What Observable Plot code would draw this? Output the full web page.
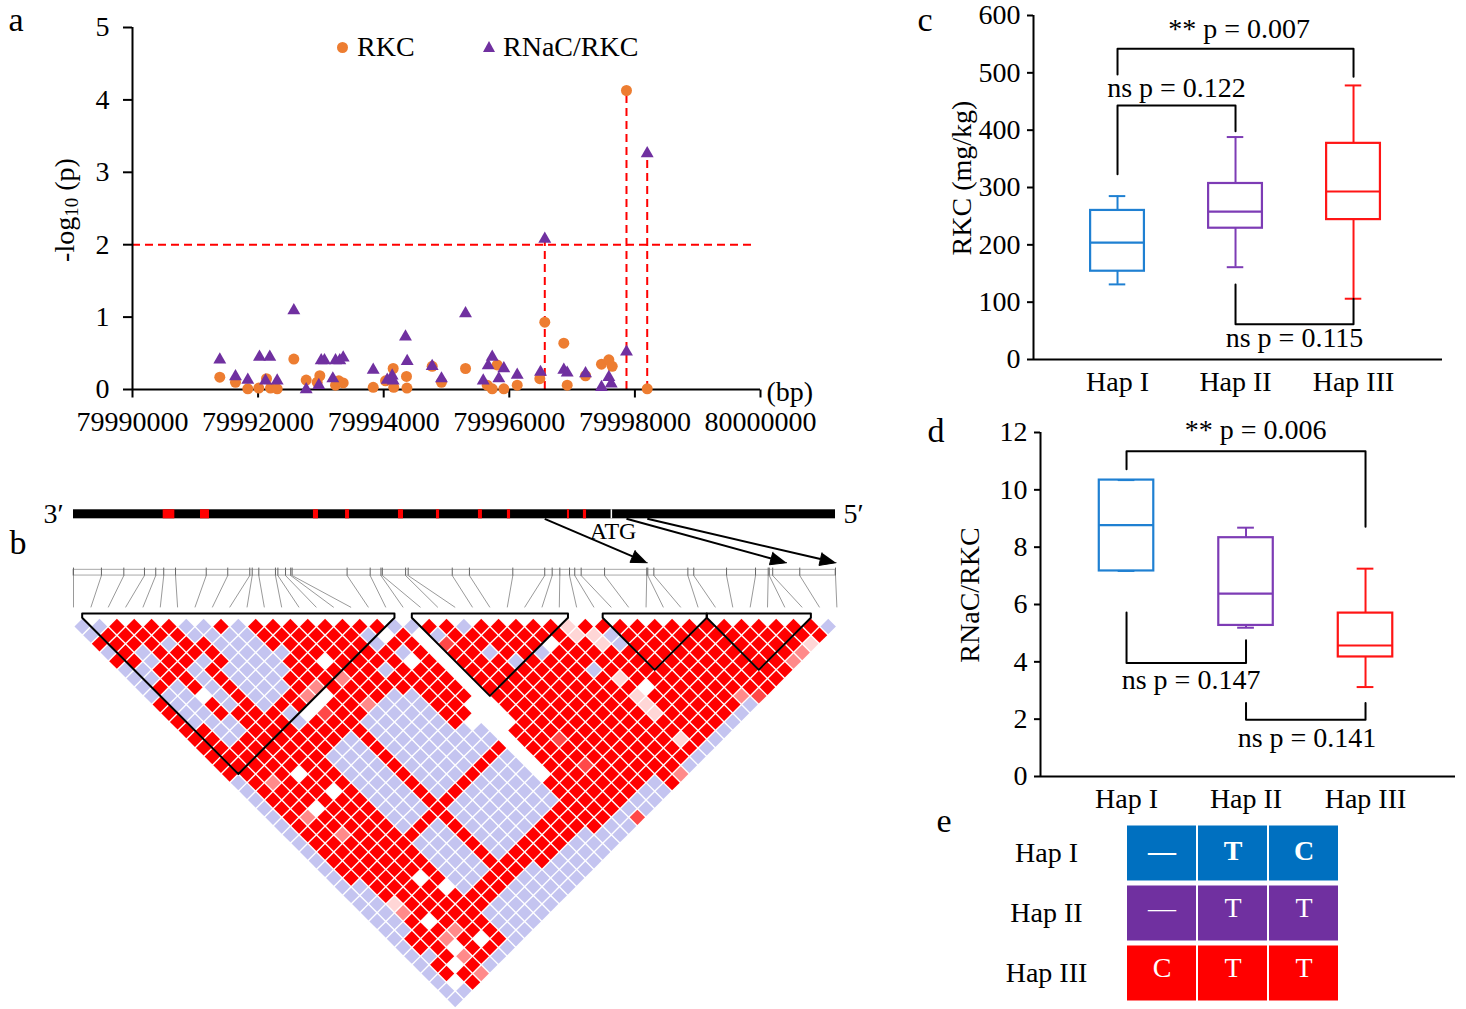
<!DOCTYPE html>
<html><head><meta charset="utf-8">
<script src="https://cdn.jsdelivr.net/npm/d3@7"></script>
<script src="https://cdn.jsdelivr.net/npm/@observablehq/plot@0.6"></script>
<style>
html,body{margin:0;padding:0;background:#fff;}
#root{position:relative;width:1466px;height:1009px;overflow:hidden;font-family:"Liberation Serif","Times New Roman",Times,serif;color:#000;}
.pl{position:absolute;}
.t{position:absolute;line-height:1.15;white-space:nowrap;transform:translate(-50%,-50%);}
.tl{position:absolute;line-height:1.15;white-space:nowrap;transform:translate(0,-50%);}
</style></head>
<body><div id="root"></div>
<script>
// ================= DATA =================
// panel a
const xTicks = [79990000, 79992000, 79994000, 79996000, 79998000, 80000000];
const yTicksA = [0, 1, 2, 3, 4, 5];
const rkcPos = [79991390,79991640,79991836,79992011,79992134,79992197,79992304,79992569,79992766,79992941,79992983,79993233,79993285,79993355,79993833,79994029,79994151,79994160,79994363,79994370,79994772,79994920,79995303,79995648,79995728,79995807,79995913,79996126,79996486,79996565,79996868,79996922,79997214,79997468,79997585,79997639,79997866,79998196];
const rkcP   = [0.17,0.10,0.01,0.02,0.15,0.02,0.01,0.42,0.13,0.10,0.19,0.06,0.12,0.09,0.03,0.12,0.29,0.03,0.18,0.02,0.32,0.10,0.29,0.06,0.01,0.34,0.01,0.06,0.15,0.93,0.64,0.06,0.19,0.35,0.41,0.32,4.13,0.01];
const rnacPos = [79991390,79991640,79991836,79992022,79992118,79992186,79992304,79992569,79992766,79992967,79993005,79993057,79993190,79993233,79993301,79993355,79993833,79994056,79994135,79994151,79994347,79994374,79994772,79994920,79995303,79995585,79995664,79995728,79995833,79995913,79996126,79996497,79996565,79996868,79996922,79997214,79997468,79997585,79997623,79997866,79998196];
const rnacP   = [0.41,0.18,0.13,0.45,0.12,0.45,0.12,1.09,0.00,0.06,0.40,0.40,0.15,0.40,0.40,0.44,0.27,0.13,0.19,0.12,0.73,0.39,0.32,0.15,1.05,0.12,0.33,0.45,0.15,0.29,0.20,0.24,2.08,0.27,0.23,0.22,0.03,0.17,0.08,0.52,3.26];
const sigPos = [79996565, 79997866, 79998196];
const sigP = [2.08, 4.13, 3.26];
const threshold = 2;
const seriesNames = ["RKC", "RNaC/RKC"];

// panel b (positions in SNP-spacing units along the gene map)
const nSnp = 45;
const rulerPos = [0,1.61,2.9,4.09,4.74,5.2,5.88,7.65,8.89,10.16,10.3,10.68,11.64,11.78,12.22,12.52,12.6,15.77,17.1,17.72,17.8,19.14,19.29,21.83,22.82,25.32,27.16,27.59,28.03,28.59,28.89,29.26,30.61,33.04,33.1,33.45,35.41,35.75,37.64,39.31,40.04,40.1,40.3,41.86,43.92];
const geneSpan = [0, 43.92];
const exonStart = [5.17,7.32,13.83,15.68,18.73,20.92,23.34,25.01,28.47,29.39];
const exonEnd   = [5.84,7.84,14.12,15.91,19.02,21.10,23.57,25.19,28.59,29.57];
const atgPos = 31.0;
const arrowFrom = [27.16, 31.87, 33.07];
const arrowTo = [33.07, 41.1, 43.95];
const blockStart = [1, 20, 31, 37];
const blockEnd = [18, 28, 36, 42];
// LD rows: row d holds pairs (i, i+d), i = 0..44-d
// R red, B lavender, W white, L light pink, P pink, M dark pink
// NOTE: rows 1-12 were read cell by cell from zoomed crops of the reference;
// rows 13-44 are a coarser by-eye reading (main red / lavender / white regions),
// so individual cells in the lower half of the triangle may differ from the original.
const ldRows = [
"BBRRRRBBRBRRRRRRRRBBRRBRRRRRLRRRRRRRRRRRRRRB",
"BRRRRRBBBBRRRRRRBWRWBRRRRRRRLLBRRRRRRRRRRRR",
"RRRRBRRBBBRRRRRRBRRWMRRRRRWRRLBRRRRRRRRRRL",
"BRBRRRRBBBBRRRRRRBRWRRBRRBRRRRRRRRRRRRRRP",
"RRBRRBRBBBRRWRRRRWRWRRRBRRRRRRRRRRRRRRRP",
"BBRRBRBBBBRRRRRBRRRWRRRRRRRBRRRRRRRRRRR",
"BBRRBRBBBRRRPRRRRRRWRRRRRRRRLRRRRRRRRR",
"BRBRBRBBBRPRRRRRRRRWRRRRRRRRRWRRRRRRR",
"BBBWBRBBRPWRRRBBRRRWRRRRRRRRLRRRRRPM",
"RBBRBRBRRWRRPBBBRRWWRRRRRRRRLRRRRRB",
"RBBRRRRBWMRRBBBBRRWWRRRRRRRRLRRRRB",
"RBBBRRRBRRRBBBBBRWWWRRRRRRRRRRRRB",
"RRBBRRRRRRRBBBBBBBWRRRRRRRRRRRRB",
"RRBRRRRRRBRBBBBBBBWRRMRRRRRRLRB",
"RRRRRRRRBBRBBBBBBRWRRRRRRRRRRB",
"RRRRRRRBBBRBBBBBRBWRRRRRRRRRB",
"RRRRRRRBBBRBBBBRBBWRRMRRRRRB",
"RRRRWRRBBBRBBBRBBBWRRRRRRRP",
"BRPRRRRBBBRBBRBBBBRRRRRRBR",
"BRRRRWRBBBRBRBBBBBRRRRRBB",
"BRRRRRRBBBRRBBBBBBRRRRBB",
"BRRWRRRBBBRBBBBBBRRRRBB",
"BRPRRRRBBRRBBBBBRRRRBM",
"BRRRRRRBRBRBBBBRRRRBB",
"BRRPRRRRBBRBBBRRRBBB",
"BRRRRRRBBBRBBRRRBBB",
"BRRRRRRBBBRBRRRBBB",
"BRRRRRRBBBRRRRBBB",
"BRRRRRRBBBRRBBBB",
"BRRRRWRBBRRBBBB",
"BBRRRRWBRRBBBB",
"BBRRRRRRRBBBB",
"BBLRRRRRBBBB",
"BBPRRRRBBBB",
"BBRWRRRBBB",
"BBRRPRRBB",
"BRRPRWRB",
"BRRWRRB",
"BBRPRB",
"BRWRB",
"BRRP",
"BWR",
"BB",
"B"
];

// panels c, d, e
const haps = ["Hap I", "Hap II", "Hap III"];
const rkcMin = [131, 161, 106];
const rkcQ1  = [154, 229, 244];
const rkcMed = [204, 258, 293];
const rkcQ3  = [260, 307, 377];
const rkcMax = [285, 388, 478];
const ratMin = [7.17, 5.19, 3.12];
const ratQ1  = [7.17, 5.27, 4.17];
const ratMed = [8.77, 6.38, 4.57];
const ratQ3  = [10.34, 8.33, 5.70];
const ratMax = [10.34, 8.68, 7.25];
const yTicksC = [0, 100, 200, 300, 400, 500, 600];
const yTicksD = [0, 2, 4, 6, 8, 10, 12];
// brackets: [from, to, leftLegEnd, barLevel, rightLegEnd]
const cBrackets = [[0, 2, 497, 542, 493], [0, 1, 323, 443, 398], [1, 2, 131, 61.6, 106]];
const cLabels = ["** p = 0.007", "ns p = 0.122", "ns p = 0.115"];
const cLabelX = [1.03, 0.5, 1.5];
const cLabelY = [577, 474, 36.6];
const dBrackets = [[0, 2, 10.72, 11.35, 8.71], [0, 1, 5.72, 3.96, 4.75], [1, 2, 2.56, 1.98, 2.56]];
const dLabels = ["** p = 0.006", "ns p = 0.147", "ns p = 0.141"];
const dLabelX = [1.08, 0.54, 1.51];
const dLabelY = [12.1, 3.35, 1.34];
const alleles = [["—", "T", "C"], ["—", "T", "T"], ["C", "T", "T"]];

// ================= STYLE / LAYOUT =================
const FONT = '"Liberation Serif","Times New Roman",Times,serif';
const baseStyle = {fontFamily: FONT, fontSize: "28px", background: "transparent", overflow: "visible", color: "black"};
const orange = "#ED7D31", purple = "#7030A0", red = "#FF0000";
const boxColor = ["#1F80D2", "#7D3CB5", "#FF1515"];
const tableColor = ["#0070C0", "#7030A0", "#FF0000"];
const ldColor = {R: "#FF0000", B: "#C4C4F0", W: "#FFFFFF", L: "#FFD6D6", P: "#FF8A8A", M: "#FF4848"};
const root = document.getElementById("root");
function addPlot(svg, left, top) {
  const w = document.createElement("div"); w.className = "pl";
  w.style.left = left + "px"; w.style.top = top + "px";
  w.appendChild(svg); root.appendChild(w);
}
function addText(html, cx, cy, size, rot, cls) {
  const d = document.createElement("div"); d.className = cls || "t"; d.innerHTML = html;
  d.style.left = cx + "px"; d.style.top = cy + "px"; d.style.fontSize = size + "px";
  if (rot) d.style.transform = `translate(-50%,-50%) rotate(${rot}deg)`;
  root.appendChild(d); return d;
}
const tickDown = {draw(ctx) { ctx.moveTo(0, 0); ctx.lineTo(0, 8); }};
const diamond = {draw(ctx, size) { const h = Math.sqrt(size / Math.PI); ctx.moveTo(0, -h); ctx.lineTo(h, 0); ctx.lineTo(0, h); ctx.lineTo(-h, 0); ctx.closePath(); }};

// ================= PANEL B =================
const KX = 17.35, KY = 8.675, BX0 = 73, BY0 = 127.3;
const GENE_Y1 = -12.45, GENE_Y2 = -11.41, RULER_Y1 = -5.53, RULER_Y2 = -4.87, SLANT_END = -1.2, TIP_Y = -6.35;
const cells = [];
ldRows.forEach((s, k) => {
  const d = k + 1;
  for (let i = 0; i <= nSnp - 1 - d; i++) cells.push({x: i + d / 2, y: d, c: s[i] || "B"});
});
const blockPts = [];
blockStart.forEach((a, k) => {
  const b = blockEnd[k];
  [[a - 0.5, 0], [a - 0.5, -0.5], [b + 0.5, -0.5], [b + 0.5, 0], [(a + b) / 2, b - a + 1], [a - 0.5, 0]]
    .forEach(([x, y]) => blockPts.push({x, y, k}));
});
const shafts = [], heads = [];
arrowFrom.forEach((x1, k) => {
  const x2 = arrowTo[k], y1 = GENE_Y2, y2 = TIP_Y;
  const dx = (x2 - x1) * KX, dy = (y2 - y1) * KY, L = Math.hypot(dx, dy);
  const ux = dx / L, uy = dy / L, HL = 16, HW = 6.5;
  const bx = x2 - HL * ux / KX, by = y2 - HL * uy / KY;
  shafts.push({x1, y1, x2: bx, y2: by});
  heads.push({x: x2, y: y2, k}, {x: bx - HW * uy / KX, y: by + HW * ux / KY, k}, {x: bx + HW * uy / KX, y: by - HW * ux / KY, k});
});
const plotB = Plot.plot({
  width: 870, height: 519, marginLeft: BX0, marginRight: 870 - (BX0 + 44 * KX), marginTop: 0, marginBottom: 0,
  style: baseStyle,
  x: {domain: [0, 44], range: [BX0, BX0 + 44 * KX], axis: null},
  y: {domain: [0, 44], range: [BY0, BY0 + 44 * KY], axis: null},
  color: {type: "identity"},
  marks: [
    Plot.rect([geneSpan], {x1: d => d[0], x2: d => d[1], y1: GENE_Y1, y2: GENE_Y2, fill: "black"}),
    Plot.rect(exonStart, {x1: d => d, x2: (d, i) => exonEnd[i], y1: GENE_Y1, y2: GENE_Y2, fill: red}),
    Plot.ruleX([atgPos], {y1: GENE_Y1, y2: GENE_Y2, stroke: "white", strokeWidth: 1.5}),
    Plot.text(["3′"], {x: 0, y: (GENE_Y1 + GENE_Y2) / 2, dx: -10, textAnchor: "end", fontSize: 28}),
    Plot.text(["5′"], {x: geneSpan[1], y: (GENE_Y1 + GENE_Y2) / 2, dx: 8, textAnchor: "start", fontSize: 28}),
    Plot.text(["ATG"], {x: atgPos + 0.1, y: -9.95, fontSize: 24}),
    Plot.link(shafts, {x1: "x1", y1: "y1", x2: "x2", y2: "y2", stroke: "black", strokeWidth: 2}),
    Plot.line(heads, {x: "x", y: "y", z: "k", fill: "black", stroke: "black", strokeWidth: 1}),
    Plot.rect([geneSpan], {x1: d => d[0], x2: d => d[1], y1: RULER_Y1, y2: RULER_Y2, fill: "none", stroke: "#a8a8a8", strokeWidth: 1}),
    Plot.ruleX(rulerPos, {x: d => d, y1: RULER_Y1 - 0.2, y2: RULER_Y2 + 0.1, stroke: "#666", strokeWidth: 1}),
    Plot.link(rulerPos, {x1: d => d, y1: RULER_Y2, x2: (d, i) => i, y2: SLANT_END, stroke: "#9a9a9a", strokeWidth: 1}),
    Plot.dot(cells, {x: "x", y: "y", fill: d => ldColor[d.c], r: 7.7, symbol: diamond, stroke: "none"}),
    Plot.line(blockPts, {x: "x", y: "y", z: "k", stroke: "black", strokeWidth: 2})
  ]
});
addPlot(plotB, 0, 490);

// ================= PANEL A =================
const A_X0 = xTicks[0], A_X1 = xTicks[xTicks.length - 1];
const rkc = rkcPos.map((x, k) => ({x, p: rkcP[k]}));
const rnac = rnacPos.map((x, k) => ({x, p: rnacP[k]}));
const sig = sigPos.map((x, k) => ({x, p: sigP[k]}));
const dashed = {stroke: red, strokeWidth: 2, strokeDasharray: "8,5"};
const plotA = Plot.plot({
  width: 870, height: 512, marginLeft: 132, marginRight: 110, marginTop: 27, marginBottom: 2,
  style: baseStyle,
  x: {domain: [A_X0, A_X1], axis: null},
  y: {domain: [0, 5], range: [389, 27]},
  marks: [
    Plot.ruleY([threshold], {x1: A_X0, x2: 79999920, ...dashed}),
    Plot.ruleX(sig, {x: "x", y1: "p", ...dashed}),
    Plot.ruleY([0], {x1: A_X0, x2: A_X1, stroke: "black", strokeWidth: 2}),
    Plot.ruleX([A_X0], {y1: 0, y2: 5, stroke: "black", strokeWidth: 2}),
    Plot.dot(xTicks, {x: d => d, y: 0, symbol: tickDown, fill: "none", stroke: "black", strokeWidth: 2}),
    Plot.text(xTicks, {x: d => d, y: 0, dy: 33, text: d => String(d), fontSize: 28}),
    Plot.text(["(bp)"], {x: A_X1, y: 0, dx: 6, dy: 3, textAnchor: "start", fontSize: 28}),
    Plot.axisY({ticks: yTicksA, tickSize: 9, tickPadding: 14, tickFormat: d => String(d), label: null, strokeWidth: 2, fontSize: 28}),
    Plot.dot(rkc, {x: "x", y: "p", r: 5.5, fill: orange}),
    Plot.dot(rnac, {x: "x", y: "p", r: 4.8, symbol: "triangle", fill: purple})
  ]
});
addPlot(plotA, 0, 0);

// legend for panel a
(function () {
  const c = document.createElement("div");
  c.style.cssText = `position:absolute;left:336.5px;top:41.5px;width:11px;height:11px;border-radius:50%;background:${orange};`;
  root.appendChild(c);
  const t = document.createElement("div");
  t.style.cssText = `position:absolute;left:483px;top:41px;width:0;height:0;border-left:6.5px solid transparent;border-right:6.5px solid transparent;border-bottom:11px solid ${purple};`;
  root.appendChild(t);
  addText(seriesNames[0], 357, 47, 28, 0, "tl");
  addText(seriesNames[1], 503, 47, 28, 0, "tl");
})();

// ================= BOX PANELS =================
function boxPlot({stats, yDomain, yTicks, xDomain, width, height, mL, mR, mT, mB, brackets, labels, labelX, labelY, tickSize, tickPadding}) {
  const half = 0.228, cap = 0.07;
  const br = [];
  brackets.forEach(([a, b, l, top, r], k) => { br.push({x: a, y: l, k}, {x: a, y: top, k}, {x: b, y: top, k}, {x: b, y: r, k}); });
  const lab = labels.map((t, k) => ({t, x: labelX[k], y: labelY[k]}));
  return Plot.plot({
    width, height, marginLeft: mL, marginRight: mR, marginTop: mT, marginBottom: mB,
    style: baseStyle,
    x: {domain: xDomain},
    y: {domain: yDomain},
    color: {type: "identity"},
    marks: [
      Plot.ruleX([xDomain[0]], {y1: yDomain[0], y2: yDomain[1], stroke: "black", strokeWidth: 2}),
      Plot.ruleY([0], {x1: xDomain[0], x2: xDomain[1], stroke: "black", strokeWidth: 2}),
      Plot.axisY({ticks: yTicks, tickSize, tickPadding, label: null, strokeWidth: 2, fontSize: 28}),
      Plot.axisX({ticks: [0, 1, 2], tickFormat: i => haps[i], tickSize: 0, tickPadding: 12, label: null, fontSize: 28}),
      Plot.ruleX(stats, {x: "i", y1: "min", y2: "q1", stroke: "color", strokeWidth: 2}),
      Plot.ruleX(stats, {x: "i", y1: "q3", y2: "max", stroke: "color", strokeWidth: 2}),
      Plot.rect(stats, {x1: d => d.i - half, x2: d => d.i + half, y1: "q1", y2: "q3", fill: "white", stroke: "color", strokeWidth: 2.2}),
      Plot.ruleY(stats, {y: "med", x1: d => d.i - half, x2: d => d.i + half, stroke: "color", strokeWidth: 2.2}),
      Plot.ruleY(stats, {y: "max", x1: d => d.i - cap, x2: d => d.i + cap, stroke: "color", strokeWidth: 2}),
      Plot.ruleY(stats, {y: "min", x1: d => d.i - cap, x2: d => d.i + cap, stroke: "color", strokeWidth: 2}),
      Plot.line(br, {x: "x", y: "y", z: "k", stroke: "black", strokeWidth: 2}),
      Plot.text(lab, {x: "x", y: "y", text: "t", fontSize: 28})
    ]
  });
}
const statsC = haps.map((h, i) => ({i, min: rkcMin[i], q1: rkcQ1[i], med: rkcMed[i], q3: rkcQ3[i], max: rkcMax[i], color: boxColor[i]}));
const statsD = haps.map((h, i) => ({i, min: ratMin[i], q1: ratQ1[i], med: ratMed[i], q3: ratQ3[i], max: ratMax[i], color: boxColor[i]}));
addPlot(boxPlot({stats: statsC, yDomain: [0, 600], yTicks: yTicksC, xDomain: [-0.712, 2.754], width: 566, height: 410,
  mL: 133, mR: 24, mT: 15, mB: 51, brackets: cBrackets, labels: cLabels, labelX: cLabelX, labelY: cLabelY, tickSize: 6, tickPadding: 7}), 900, 0);
addPlot(boxPlot({stats: statsD, yDomain: [0, 12], yTicks: yTicksD, xDomain: [-0.72, 2.753], width: 566, height: 420,
  mL: 140, mR: 11, mT: 22, mB: 54, brackets: dBrackets, labels: dLabels, labelX: dLabelX, labelY: dLabelY, tickSize: 6, tickPadding: 7}), 900, 410);

// ================= PANEL E =================
const tableCells = haps.flatMap((h, r) => alleles[r].map((a, c) => ({hap: h, col: c, allele: a, row: r})));
const plotE = Plot.plot({
  width: 476, height: 194, marginLeft: 136, marginRight: 127, marginTop: 8, marginBottom: 6,
  style: baseStyle,
  x: {type: "band", domain: [0, 1, 2], padding: 0, axis: null},
  y: {type: "band", domain: haps, padding: 0},
  color: {type: "identity"},
  marks: [
    Plot.cell(tableCells, {x: "col", y: "hap", fill: d => tableColor[d.row], insetLeft: 1, insetRight: 1, insetTop: 2.5, insetBottom: 2.5}),
    Plot.text(tableCells.filter(d => d.row === 0), {x: "col", y: "hap", text: "allele", fill: "white", fontWeight: "bold", fontSize: 28, dy: -2}),
    Plot.text(tableCells.filter(d => d.row > 0), {x: "col", y: "hap", text: "allele", fill: "white", fontSize: 28, dy: -5}),
    Plot.axisY({tickSize: 0, tickPadding: 80, textAnchor: "middle", label: null, fontSize: 28})
  ]
});
addPlot(plotE, 990, 815);

// ================= LABELS =================
addText("a", 16, 20, 34);
addText("b", 18, 543, 34);
addText("c", 925, 20, 34);
addText("d", 936, 431, 34);
addText("e", 944, 821, 34);
addText('-log<sub style="font-size:19px;vertical-align:-4px">10</sub> (p)', 66, 210, 28, -90);
addText("RKC (mg/kg)", 962, 178, 28, -90);
addText("RNaC/RKC", 970, 595, 28, -90);
</script></body></html>
